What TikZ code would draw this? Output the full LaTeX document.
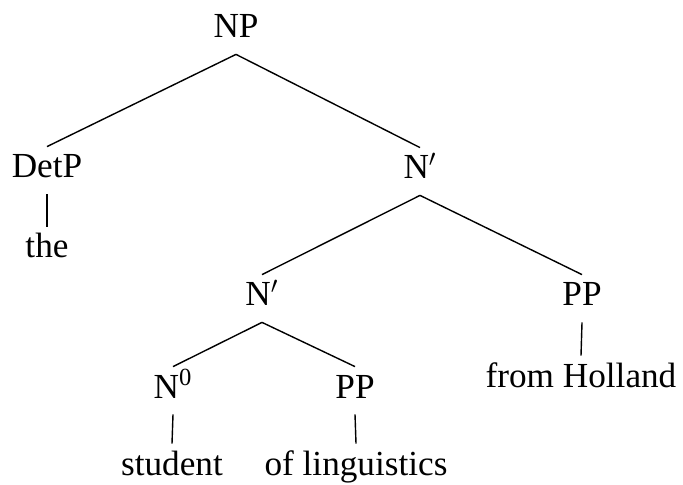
\documentclass[tikz,border=0pt]{standalone}
\usepackage{fontspec}
\setmainfont{Liberation Serif}
\usetikzlibrary{positioning}

\tikzset{
  cat/.style={anchor=base, inner sep=2.5pt, text height=13pt, text depth=5.5pt,
    font=\fontsize{17.6}{21}\selectfont},
  branch/.style={line width=0.7pt}
}

\begin{document}
\begin{tikzpicture}[x=0.5pt, y=-0.5pt]
    \useasboundingbox (0,0) rectangle (683,485);
    % phrase labels
    \node[cat] (np)     at (236,38)  {NP};
    \node[cat] (detp)   at (47,178)  {DetP};
    \node[cat] (nbar)   at (420,179) {N$'$};
    \node[cat] (nbarlo) at (262,306) {N$'$};
    \node[cat] (pphi)   at (582,306) {PP};
    \node[cat] (nzero)  at (173,398) {N\textsuperscript{0}};
    \node[cat] (pplo)   at (355,398) {PP};
    % words
    \node[cat] (the)     at (47,258)  {the};
    \node[cat] (holland) at (581,387) {from Holland};
    \node[cat] (student) at (172,475) {student};
    \node[cat] (ling)    at (356,475) {of linguistics};
    % branches
    \draw[branch] (np.south) -- (detp.north);
    \draw[branch] (np.south) -- (nbar.north);
    \draw[branch] (detp.south) -- (the.north);
    \draw[branch] (nbar.south) -- (nbarlo.north);
    \draw[branch] (nbar.south) -- (pphi.north);
    \draw[branch] (pphi.south) -- (holland.north);
    \draw[branch] (nbarlo.south) -- (nzero.north);
    \draw[branch] (nbarlo.south) -- (pplo.north);
    \draw[branch] (nzero.south) -- (student.north);
    \draw[branch] (pplo.south) -- (ling.north);
\end{tikzpicture}
\end{document}
